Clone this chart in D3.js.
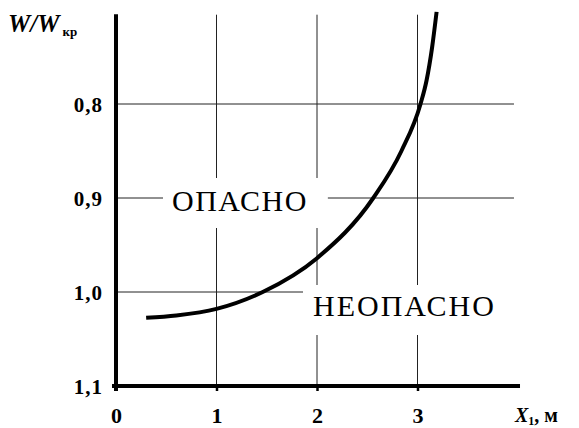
<!DOCTYPE html>
<html>
<head>
<meta charset="utf-8">
<script src="https://cdn.jsdelivr.net/npm/d3@7"></script>
<style>
	body { margin: 0; background: #fff; }
	svg { display: block; }
</style>
</head>
<body>
<div id="chart"></div>
<script>
// Curve points: X1 (m) and W/Wkr
var curveX = [0.3, 0.6, 1.0, 1.46, 2.0, 2.56, 2.84, 3.03, 3.09, 3.145, 3.19];
var curveW = [1.0275, 1.025, 1.018, 1.0, 0.964, 0.9, 0.85, 0.8, 0.775, 0.74, 0.702];

var xTicks = [0, 1, 2, 3];
var yTicks = [0.8, 0.9, 1.0, 1.1];
var xGrid = [1, 2, 3];

var width = 579, height = 428;
var serif = "'Liberation Serif', 'Times New Roman', Times, 'DejaVu Serif', serif";

var x = d3.scaleLinear().domain([0, 4]).range([116, 518]);
var y = d3.scaleLinear().domain([0.7, 1.1]).range([10, 386]);

var svg = d3.select("#chart").append("svg")
		.attr("width", width)
		.attr("height", height)
		.attr("font-family", serif);

// Grid
var grid = svg.append("g").attr("class", "grid")
		.attr("stroke", "#222")
		.attr("stroke-width", 1);

grid.selectAll(".vgrid")
	.data(xGrid)
	.enter().append("line")
		.attr("class", "vgrid")
		.attr("x1", function(d) { return x(d); })
		.attr("x2", function(d) { return x(d); })
		.attr("y1", y(0.705))
		.attr("y2", y(1.1));

grid.selectAll(".hgrid")
	.data(yTicks.slice(0, 3))
	.enter().append("line")
		.attr("class", "hgrid")
		.attr("x1", x(0))
		.attr("x2", x(3.96))
		.attr("y1", function(d) { return y(d); })
		.attr("y2", function(d) { return y(d); });

// Region labels, with white gaps cut into the grid
function regionLabel(txt, tx, ty, spacing, pad) {
	var g = svg.append("g");
	var rect = g.append("rect").attr("fill", "#fff");
	var t = g.append("text")
			.attr("x", tx)
			.attr("y", ty)
			.style("font-family", serif)
			.style("font-size", "30px")
			.style("letter-spacing", spacing + "px")
			.text(txt);
	var b = t.node().getBBox();
	rect.attr("x", b.x - pad[3])
			.attr("y", b.y - pad[0])
			.attr("width", b.width + pad[1] + pad[3])
			.attr("height", b.height + pad[0] + pad[2]);
}

regionLabel("ОПАСНО", 172, 211, 1.5, [6, 20, 11, 9]);
regionLabel("НЕОПАСНО", 313, 316, 2, [4, 40, 13, 10]);

// Curve
var line = d3.line()
		.x(function(d) { return x(d[0]); })
		.y(function(d) { return y(d[1]); })
		.curve(d3.curveMonotoneX);

svg.append("path")
		.datum(d3.zip(curveX, curveW))
		.attr("fill", "none")
		.attr("stroke", "#000")
		.attr("stroke-width", 4)
		.attr("d", line);

// Axes
svg.append("line")
		.attr("x1", x(0))
		.attr("x2", x(0))
		.attr("y1", y(0.7045))
		.attr("y2", y(1.1) + 5)
		.attr("stroke", "#000")
		.attr("stroke-width", 4);

svg.append("line")
		.attr("x1", x(0) - 4)
		.attr("x2", x(4.02))
		.attr("y1", y(1.1))
		.attr("y2", y(1.1))
		.attr("stroke", "#000")
		.attr("stroke-width", 4);

var xAxis = svg.append("g")
		.attr("transform", "translate(0," + y(1.1) + ")")
		.call(d3.axisBottom(x).tickValues(xTicks).tickSize(5).tickPadding(16).tickSizeOuter(0)
			.tickFormat(d3.format("d")));

xAxis.attr("font-family", serif);
xAxis.select(".domain").remove();
xAxis.selectAll(".tick line").attr("stroke", "#000").attr("stroke-width", 2.5);
xAxis.selectAll(".tick text")
		.style("font-family", serif)
		.style("font-size", "22px")
		.style("font-weight", "bold");

var yAxis = svg.append("g")
		.attr("transform", "translate(" + x(0) + ",0)")
		.call(d3.axisLeft(y).tickValues(yTicks).tickSize(0).tickPadding(13)
			.tickFormat(function(d) { return d.toFixed(1).replace(".", ","); }));

yAxis.attr("font-family", serif);
yAxis.select(".domain").remove();
yAxis.selectAll(".tick text")
		.attr("dy", "0.36em")
		.style("font-family", serif)
		.style("font-size", "21px")
		.style("font-weight", "bold")
		.style("letter-spacing", "1px");

// Axis titles
var yTitle = svg.append("text")
		.attr("x", 8)
		.attr("y", 32)
		.style("font-family", serif)
		.style("font-size", "25px")
		.style("font-weight", "bold")
		.style("font-style", "italic");
yTitle.append("tspan").text("W/W");
yTitle.append("tspan")
		.attr("dx", 3)
		.attr("dy", 4)
		.style("font-size", "13px")
		.style("font-style", "normal")
		.text("кр");

var xTitle = svg.append("text")
		.attr("x", 515)
		.attr("y", 422)
		.style("font-family", serif)
		.style("font-size", "20px")
		.style("font-weight", "bold");
xTitle.append("tspan").style("font-style", "italic").text("X");
xTitle.append("tspan").attr("dy", 3).style("font-size", "12px").text("1");
xTitle.append("tspan").attr("dy", -3).text(", м");
</script>
</body>
</html>
